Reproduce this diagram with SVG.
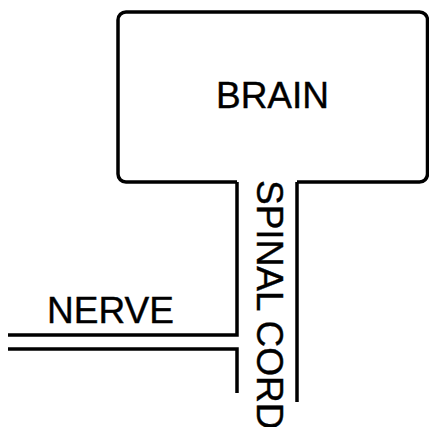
<svg xmlns="http://www.w3.org/2000/svg" width="429" height="427" viewBox="0 0 429 427">
<style>
.ln{fill:none;stroke:#000;stroke-width:3.5;stroke-linejoin:miter;stroke-linecap:butt}
.t{font-family:"Liberation Sans",Arial,sans-serif;font-size:37px;fill:#000;stroke:#000;stroke-width:0.4}
</style>
<rect width="429" height="427" fill="#fff"/>
<g id="brain">
<path class="ln" d="M237,182 H126 A8,8 0 0 1 118,174 V20 A8,8 0 0 1 126,12 H419.5 A8,8 0 0 1 427.5,20 V174 A8,8 0 0 1 419.5,182 H297"/>
<text class="t" x="272.5" y="108" text-anchor="middle">BRAIN</text>
</g>
<g id="spinal-cord">
<text class="t" transform="translate(257,180) rotate(90)">SPINAL CORD</text>
</g>
<g id="nerve">
<text class="t" x="47" y="323">NERVE</text>
</g>
<g id="connectors">
<path class="ln" d="M8,335 H237 V182"/>
<path class="ln" d="M8,349 H237 V393"/>
<path class="ln" d="M297,182 V402"/>
</g>
</svg>
